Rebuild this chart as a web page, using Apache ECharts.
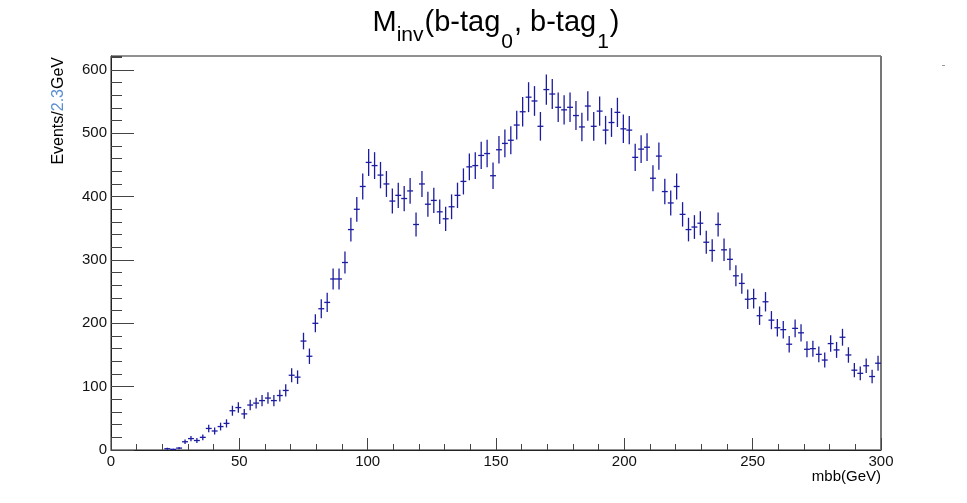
<!DOCTYPE html>
<html><head><meta charset="utf-8">
<script src="https://cdn.jsdelivr.net/npm/echarts@6/dist/echarts.min.js"></script>
<style>html,body{margin:0;padding:0;background:#fff}#c{width:967px;height:503px}</style>
</head><body><div id="c"></div>
<script>
// Histogram definition
const X_MIN = 0, X_MAX = 300, N_BINS = 130;
const FIRST_BIN = 9; // first non-empty bin index
// Counts per bin, starting at FIRST_BIN
const counts = [
  2, 1, 3, 13, 18, 15, 20, 34, 30, 37, 42,
  62, 67, 57, 71, 74, 78, 82, 78, 86, 94,
  118, 115, 172, 148, 200, 223, 233, 270, 270, 296,
  348, 380, 416, 454, 449, 434, 420, 393, 402, 397,
  409, 356, 420, 388, 394, 376, 365, 384, 402, 424,
  447, 449, 465, 468, 433, 474, 484, 489, 513, 534,
  557, 551, 511, 569, 562, 541, 537, 541, 528, 510,
  543, 511, 535, 505, 517, 533, 507, 505, 462, 475,
  478, 429, 464, 408, 390, 416, 372, 348, 352, 358,
  328, 315, 356, 316, 301, 275, 263, 238, 239, 212,
  234, 205, 193, 190, 167, 192, 185, 159, 160, 151,
  142, 168, 158, 178, 150, 126, 121, 133, 116, 137
];
const xTickLabels = [0, 50, 100, 150, 200, 250, 300];
const yTickLabels = [0, 100, 200, 300, 400, 500, 600];
const Y_MAX = 622;

const binWidth = (X_MAX - X_MIN) / N_BINS;
const data = counts.map((n, k) => [X_MIN + (FIRST_BIN + k + 0.5) * binWidth, n, binWidth]);

const FONT = '"Liberation Sans", Arial, Helvetica, sans-serif';
const MARK = '#1c1ca0';

// Title layout pieces (text only)
const ctx = document.createElement('canvas').getContext('2d');
function tw(t, s) { ctx.font = s + 'px "Liberation Sans"'; return ctx.measureText(t).width; }
const MAIN = 29, SUB = 21, BASE = 33;
const parts = [
  {t: 'M', s: MAIN, dy: 0, gap: 0},
  {t: 'inv', s: SUB, dy: 9, gap: 0},
  {t: '(b-tag', s: MAIN, dy: 0, gap: 1},
  {t: '0', s: SUB, dy: 16, gap: 1},
  {t: ', b-tag', s: MAIN, dy: 0, gap: 1},
  {t: '1', s: SUB, dy: 16, gap: 1},
  {t: ')', s: MAIN, dy: 0, gap: 1}
];
let total = 0;
parts.forEach(p => { p.w = tw(p.t, p.s); total += p.gap + p.w; });
let cx = 496 - total / 2;
const titleEls = parts.map(p => {
  cx += p.gap;
  const el = {
    type: 'text', x: cx, y: BASE + p.dy - 0.33 * p.s,
    style: {text: p.t, font: p.s + 'px ' + FONT, fill: '#000', align: 'left', verticalAlign: 'middle'}
  };
  cx += p.w;
  return el;
});

const chart = echarts.init(document.getElementById('c'), null, {renderer: 'canvas'});
chart.setOption({
  animation: false,
  backgroundColor: '#fff',
  grid: {left: 111, right: 86, top: 56, bottom: 53, show: true, borderColor: '#222', borderWidth: 1, backgroundColor: 'transparent'},
  xAxis: {
    type: 'value', min: X_MIN, max: X_MAX, interval: 50,
    axisLine: {show: true, lineStyle: {color: '#222', width: 1}},
    axisTick: {inside: true, length: 12, lineStyle: {color: '#444'}},
    minorTick: {show: true, splitNumber: 5, length: 6, lineStyle: {color: '#444'}},
    splitLine: {show: false},
    axisLabel: {margin: 4, fontSize: 15, color: '#111', fontFamily: FONT,
      formatter: v => xTickLabels.includes(v) ? String(v) : ''}
  },
  yAxis: [{
    type: 'value', min: 0, max: Y_MAX, interval: 100, position: 'left',
    axisLine: {show: true, lineStyle: {color: '#222', width: 1}},
    axisTick: {inside: true, length: 23, lineStyle: {color: '#444'}},
    splitLine: {show: false},
    axisLabel: {margin: 4, fontSize: 15, color: '#111', fontFamily: FONT, showMaxLabel: false,
      formatter: v => yTickLabels.includes(v) ? String(v) : ''}
  }, {
    type: 'value', min: 0, max: Y_MAX, interval: 20, position: 'left', offset: 0,
    axisLine: {show: false},
    axisTick: {inside: true, length: 11, lineStyle: {color: '#444'}},
    splitLine: {show: false},
    axisLabel: {show: false}
  }],
  series: [{
    type: 'custom',
    xAxisIndex: 0, yAxisIndex: 0,
    data: data,
    encode: {x: 0, y: 1},
    renderItem: function (params, api) {
      const xc = api.value(0), n = api.value(1), hw = api.value(2) / 2;
      const e = Math.sqrt(n);
      const pL = api.coord([xc - hw, n]), pR = api.coord([xc + hw, n]);
      const pT = api.coord([xc, n + e]), pB = api.coord([xc, n - e]);
      const st = {stroke: MARK, lineWidth: 1.3};
      return {type: 'group', children: [
        {type: 'line', shape: {x1: pL[0], y1: pL[1], x2: pR[0], y2: pR[1]}, style: st},
        {type: 'line', shape: {x1: pT[0], y1: pT[1], x2: pB[0], y2: pB[1]}, style: st}
      ]};
    }
  }],
  graphic: [
    ...titleEls,
    {type: 'text', x: 59, y: 57, rotation: Math.PI / 2,
      style: {text: 'Events/{a|2.3}GeV', font: '16px ' + FONT, fill: '#000', align: 'right', verticalAlign: 'middle',
        rich: {a: {fill: '#5a8ed0', font: '16px ' + FONT}}}},
    {type: 'text', x: 881, y: 477,
      style: {text: 'mbb(GeV)', font: '15px ' + FONT, fill: '#000', align: 'right', verticalAlign: 'middle'}},
    {type: 'line', shape: {x1: 881, y1: 56, x2: 881, y2: 450}, style: {stroke: '#777', lineWidth: 2}},
    {type: 'line', shape: {x1: 942, y1: 65.5, x2: 945, y2: 65.5}, style: {stroke: '#999', lineWidth: 1}}
  ]
});
</script></body></html>
